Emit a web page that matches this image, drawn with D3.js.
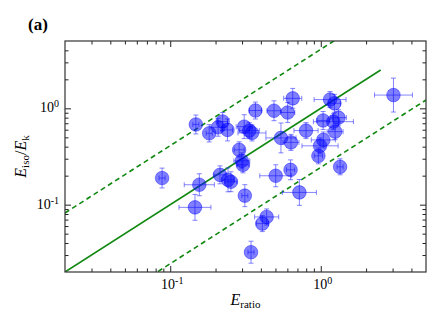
<!DOCTYPE html>
<html><head><meta charset="utf-8">
<script src="https://cdn.jsdelivr.net/npm/d3@7"></script>
<style>
html,body{margin:0;padding:0;background:#fff;}
svg text{font-family:"Liberation Serif","DejaVu Serif","Times New Roman",serif;}
</style></head>
<body><svg id="c" width="443" height="332"></svg>
<script>
// E_ratio values
const eRatio = [0.148,0.1815,0.223,0.208,0.240,0.368,0.489,0.603,0.651,0.310,0.335,0.349,0.287,0.299,0.304,0.544,0.634,0.798,1.036,1.213,1.31,1.245,1.04,0.989,0.964,1.344,0.0883,0.156,0.146,0.214,0.242,0.253,0.313,0.502,0.630,0.721,3.04,1.153,1.232,0.437,0.409,0.344];
// E_iso/E_k values
const eIsoK = [0.680,0.551,0.730,0.636,0.597,0.949,0.944,0.905,1.27,0.645,0.587,0.555,0.371,0.285,0.259,0.493,0.443,0.587,0.748,0.727,0.800,0.573,0.470,0.408,0.321,0.247,0.189,0.161,0.0938,0.204,0.181,0.173,0.124,0.1995,0.230,0.134,1.373,1.233,1.127,0.0746,0.0636,0.0321];
// errors in dex (log10 half-widths)
const xErrDex = [0.02,0.02,0.033,0.053,0.033,0.04,0.047,0.047,0.06,0.053,0.067,0.093,0.033,0.053,0.04,0.10,0.053,0.08,0.04,0.133,0.053,0.053,0.08,0.12,0.027,0.02,0.02,0.10,0.106,0.04,0.04,0.04,0.02,0.106,0.027,0.113,0.126,0.106,0.04,0.08,0.04,0.02];
const yErrDex = [0.098,0.09,0.093,0.093,0.114,0.088,0.103,0.103,0.103,0.124,0.083,0.083,0.083,0.083,0.083,0.155,0.083,0.083,0.093,0.083,0.083,0.083,0.083,0.083,0.083,0.083,0.103,0.114,0.134,0.093,0.124,0.103,0.114,0.114,0.103,0.134,0.176,0.083,0.093,0.083,0.083,0.114];
// relation lines: y = k * x
const relFactors = [1, 4.1, 1/4.1];
const relStyles = ["solid","dashed","dashed"];
const majorTicks = [0.1, 1];
const minorTicks = [0.03,0.04,0.05,0.06,0.07,0.08,0.09,0.2,0.3,0.4,0.5,0.6,0.7,0.8,0.9,2,3,4];
const domain = [0.02, 5];
const solidRange = [0.02, 2.5];

const FONT = '"Liberation Serif","DejaVu Serif","Times New Roman",serif';
const svg = d3.select("#c");
const L=65, R=426, T=41, B=272;
const x = d3.scaleLog().domain(domain).range([L,R]);
const y = d3.scaleLog().domain(domain).range([B,T]);

const plot = svg.append("g");
plot.append("clipPath").attr("id","clip").append("rect").attr("x",L).attr("y",T).attr("width",R-L).attr("height",B-T);
const clipped = plot.append("g").attr("clip-path","url(#clip)");

// relation lines
relFactors.forEach((k,i)=>{
  const xs = i===0 ? solidRange : domain;
  clipped.append("line")
    .attr("x1",x(xs[0])).attr("y1",y(xs[0]*k))
    .attr("x2",x(xs[1])).attr("y2",y(xs[1]*k))
    .attr("stroke","#118811").attr("stroke-width",1.6)
    .attr("stroke-dasharray", relStyles[i]==="dashed" ? "5,3.5" : null);
});

// data
const data = eRatio.map((v,i)=>({x:v,y:eIsoK[i],xe:xErrDex[i],ye:yErrDex[i]}));
const eb = clipped.append("g").attr("stroke","#3333ff").attr("stroke-opacity",0.6).attr("stroke-width",1).attr("fill","none");
const cap = 2.5;
data.forEach(d=>{
  const cx=x(d.x), cy=y(d.y);
  const xl=x(d.x*Math.pow(10,-d.xe)), xr=x(d.x*Math.pow(10,d.xe));
  const yt=y(d.y*Math.pow(10,d.ye)), yb=y(d.y*Math.pow(10,-d.ye));
  eb.append("line").attr("x1",xl).attr("x2",xr).attr("y1",cy).attr("y2",cy);
  eb.append("line").attr("x1",xl).attr("x2",xl).attr("y1",cy-cap).attr("y2",cy+cap);
  eb.append("line").attr("x1",xr).attr("x2",xr).attr("y1",cy-cap).attr("y2",cy+cap);
  eb.append("line").attr("x1",cx).attr("x2",cx).attr("y1",yt).attr("y2",yb);
  eb.append("line").attr("x1",cx-cap).attr("x2",cx+cap).attr("y1",yt).attr("y2",yt);
  eb.append("line").attr("x1",cx-cap).attr("x2",cx+cap).attr("y1",yb).attr("y2",yb);
});
clipped.append("g").selectAll("circle").data(data).join("circle")
  .attr("cx",d=>x(d.x)).attr("cy",d=>y(d.y)).attr("r",6.8)
  .attr("fill","#0000ff").attr("fill-opacity",0.5)
  .attr("stroke","#0000ff").attr("stroke-opacity",0.4).attr("stroke-width",1);

// axes (ticks inward on all sides)
function addAxis(gen, tr){
  const g = svg.append("g").attr("transform",tr);
  g.call(gen);
  g.select(".domain").remove();
  g.selectAll(".tick line").attr("stroke","#222").attr("stroke-width",1);
  g.selectAll("text").remove();
  return g;
}
addAxis(d3.axisBottom(x).tickValues(majorTicks).tickSize(-6).tickFormat(""), `translate(0,${B})`);
addAxis(d3.axisBottom(x).tickValues(minorTicks).tickSize(-3.5).tickFormat(""), `translate(0,${B})`);
addAxis(d3.axisTop(x).tickValues(majorTicks).tickSize(-6).tickFormat(""), `translate(0,${T})`);
addAxis(d3.axisTop(x).tickValues(minorTicks).tickSize(-3.5).tickFormat(""), `translate(0,${T})`);
addAxis(d3.axisLeft(y).tickValues(majorTicks).tickSize(-6).tickFormat(""), `translate(${L},0)`);
addAxis(d3.axisLeft(y).tickValues(minorTicks).tickSize(-3.5).tickFormat(""), `translate(${L},0)`);
addAxis(d3.axisRight(y).tickValues(majorTicks).tickSize(-6).tickFormat(""), `translate(${R},0)`);
addAxis(d3.axisRight(y).tickValues(minorTicks).tickSize(-3.5).tickFormat(""), `translate(${R},0)`);

svg.append("rect").attr("x",L).attr("y",T).attr("width",R-L).attr("height",B-T)
  .attr("fill","none").attr("stroke","#333").attr("stroke-width",1.2);

// tick labels
const exps = majorTicks.map(v=>Math.round(Math.log10(v)));
majorTicks.forEach((v,i)=>{
  const t = svg.append("text").attr("x",x(v)+2).attr("y",B+17).attr("text-anchor","middle").attr("font-size",14).attr("font-family",FONT).attr("fill","#000");
  t.append("tspan").text("10");
  t.append("tspan").attr("dy",-5).attr("font-size",10).text(exps[i]<0?"-"+(-exps[i]):String(exps[i]));
  const u = svg.append("text").attr("x",L-6).attr("y",y(v)+4).attr("text-anchor","end").attr("font-size",14).attr("font-family",FONT).attr("fill","#000");
  u.append("tspan").text("10");
  u.append("tspan").attr("dy",-5).attr("font-size",10).text(exps[i]<0?"-"+(-exps[i]):String(exps[i]));
});

// axis titles
const xl = svg.append("text").attr("x",(L+R)/2).attr("y",305).attr("text-anchor","middle").attr("font-size",16).attr("font-family",FONT);
xl.append("tspan").attr("font-style","italic").text("E");
xl.append("tspan").attr("font-size",11).attr("dy",3).text("ratio");

const yl = svg.append("text").attr("transform",`translate(26,${(T+B)/2}) rotate(-90)`).attr("text-anchor","middle").attr("font-size",16).attr("font-family",FONT);
yl.append("tspan").attr("font-style","italic").text("E");
yl.append("tspan").attr("font-size",11).attr("dy",3).text("iso");
yl.append("tspan").attr("dy",-3).text("/");
yl.append("tspan").attr("font-style","italic").text("E");
yl.append("tspan").attr("font-size",11).attr("dy",3).text("k");

svg.append("text").attr("x",28).attr("y",30).attr("font-size",17).attr("font-weight","bold").attr("font-family",FONT).text("(a)");
</script></body></html>
